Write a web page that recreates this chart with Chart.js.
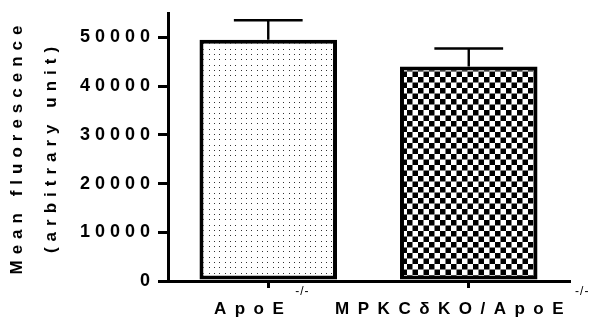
<!DOCTYPE html>
<html>
<head>
<meta charset="utf-8">
<script src="https://cdn.jsdelivr.net/npm/chart.js@4/dist/chart.umd.min.js"></script>
<style>
  html, body { margin: 0; padding: 0; background: #fff; }
  #c { display: block; }
</style>
</head>
<body>
<canvas id="c" width="591" height="325"></canvas>
<script>
// ---- data ----
const categories = ["ApoE", "MPKCδKO/ApoE"];
const superscripts = ["-/-", "-/-"];
const meanValues = [49500, 44000];
const errorValues = [4000, 3700];
const yTitleLines = ["Mean fluorescence", "(arbitrary unit)"];
const yTickValues = [0, 10000, 20000, 30000, 40000, 50000];
const yMin = 0;
const yMax = 55000;

const FONT = '"Liberation Sans", Arial, sans-serif';

// ---- fill patterns ----
function dotPattern(ctx) {
  const c = document.createElement('canvas');
  c.width = 16; c.height = 16;
  const g = c.getContext('2d');
  g.fillStyle = '#fff'; g.fillRect(0, 0, 16, 16);
  g.fillStyle = '#333';
  for (const px of [1, 6, 11]) for (const py of [1, 6, 11]) g.fillRect(px, py, 1, 1);
  return ctx.createPattern(c, 'repeat');
}
function checkerPattern(ctx) {
  const c = document.createElement('canvas');
  c.width = 11; c.height = 11;
  const g = c.getContext('2d');
  g.fillStyle = '#fff'; g.fillRect(0, 0, 11, 11);
  g.fillStyle = '#000';
  g.fillRect(0, 0, 5.5, 5.5);
  g.fillRect(5.5, 5.5, 5.5, 5.5);
  return ctx.createPattern(c, 'repeat');
}

const canvas = document.getElementById('c');
const mainCtx = canvas.getContext('2d');
const fills = [dotPattern(mainCtx), checkerPattern(mainCtx)];

// ---- plugins ----
const spacingPlugin = {
  id: 'spacing',
  beforeLayout(chart) { chart.ctx.letterSpacing = '5px'; },
  beforeDraw(chart) {
    chart.ctx.letterSpacing = '5px';
    const y = chart.scales.y;
    if (y && !y._titleWrapped) {
      const orig = y.drawTitle;
      y.drawTitle = function () {
        const c = this.ctx;
        const prev = c.letterSpacing;
        c.letterSpacing = '6px';
        orig.apply(this, arguments);
        c.letterSpacing = prev;
      };
      y._titleWrapped = true;
    }
  }
};

const errorBarPlugin = {
  id: 'errorBars',
  afterDatasetsDraw(chart) {
    const ctx = chart.ctx;
    const y = chart.scales.y;
    const meta = chart.getDatasetMeta(0);
    ctx.save();
    ctx.strokeStyle = '#000';
    ctx.lineWidth = 2.4;
    meta.data.forEach((bar, i) => {
      const top = y.getPixelForValue(meanValues[i] + errorValues[i]);
      const half = bar.width * 0.25;
      ctx.beginPath();
      ctx.moveTo(bar.x, bar.y);
      ctx.lineTo(bar.x, top);
      ctx.moveTo(bar.x - half, top);
      ctx.lineTo(bar.x + half, top);
      ctx.stroke();
    });
    ctx.restore();
  }
};

const xLabelPlugin = {
  id: 'xLabels',
  afterDraw(chart) {
    const ctx = chart.ctx;
    const x = chart.scales.x;
    ctx.save();
    ctx.fillStyle = '#000';
    ctx.textAlign = 'left';
    ctx.textBaseline = 'alphabetic';
    chart.data.labels.forEach((lab, i) => {
      const cx = x.getPixelForTick(i);
      ctx.font = 'bold 17px ' + FONT;
      ctx.letterSpacing = '8.5px';
      const mw = ctx.measureText(lab).width;
      ctx.font = '12px ' + FONT;
      ctx.letterSpacing = '1px';
      const sw = ctx.measureText(superscripts[i]).width;
      const x0 = cx - (mw + sw) / 2 - 8;
      ctx.font = 'bold 17px ' + FONT;
      ctx.letterSpacing = '8.5px';
      ctx.fillText(lab, x0, x.top + 33);
      ctx.font = '12px ' + FONT;
      ctx.letterSpacing = '1px';
      ctx.fillText(superscripts[i], x0 + mw + 3, x.top + 14);
    });
    ctx.restore();
  }
};

new Chart(canvas, {
  type: 'bar',
  data: {
    labels: categories,
    datasets: [{
      data: meanValues,
      backgroundColor: fills,
      borderColor: '#000',
      borderWidth: 4,
      borderSkipped: false,
      barPercentage: 0.686,
      categoryPercentage: 1.0
    }]
  },
  options: {
    responsive: false,
    animation: false,
    devicePixelRatio: 1,
    layout: { padding: { top: 13, right: 22, bottom: 37, left: 0 } },
    plugins: { legend: { display: false }, tooltip: { enabled: false } },
    scales: {
      x: {
        z: 1,
        ticks: { display: false },
        grid: { display: true, drawOnChartArea: false, drawTicks: true, tickLength: 7, lineWidth: 3, color: '#000', offset: false },
        border: { display: true, color: '#000', width: 3 }
      },
      y: {
        min: yMin,
        max: yMax,
        afterBuildTicks(scale) { scale.ticks = yTickValues.map(v => ({ value: v })); },
        afterFit(scale) { scale.width = 168; },
        ticks: {
          padding: 3,
          color: '#000',
          font: { family: FONT, size: 18, weight: 'bold', lineHeight: 1 },
          callback: (v) => String(v)
        },
        grid: { display: true, drawOnChartArea: false, drawTicks: true, tickLength: 10, lineWidth: 3, color: '#000' },
        border: { display: true, color: '#000', width: 3 },
        title: {
          display: true,
          text: yTitleLines,
          color: '#000',
          padding: 0,
          font: { family: FONT, size: 17, weight: 'bold', lineHeight: 2 }
        }
      }
    }
  },
  plugins: [spacingPlugin, errorBarPlugin, xLabelPlugin]
});
</script>
</body>
</html>
